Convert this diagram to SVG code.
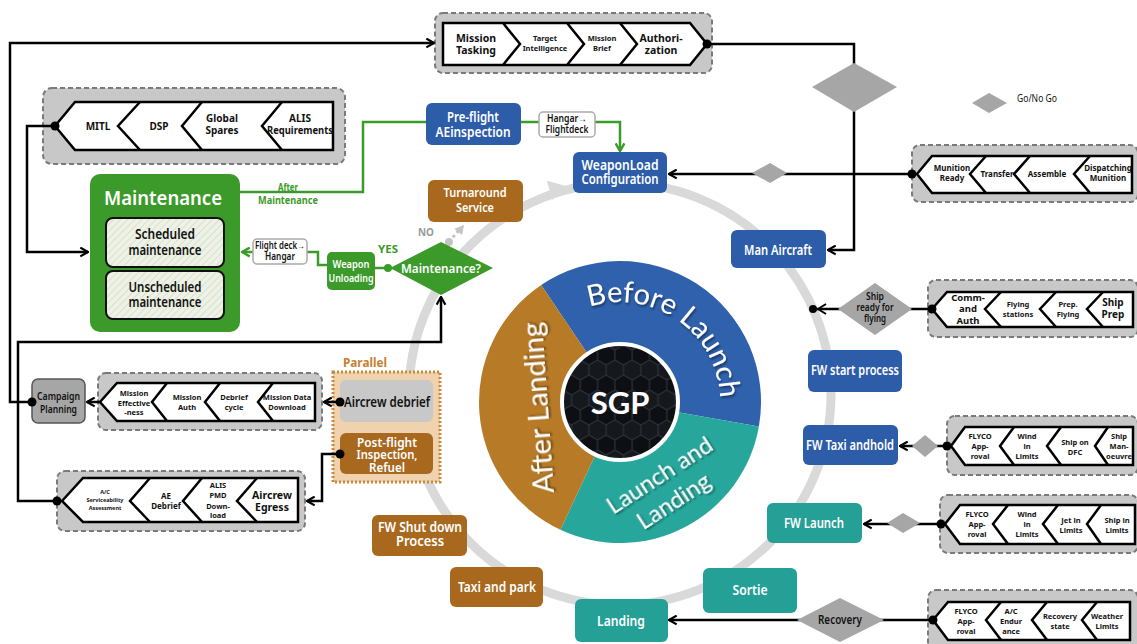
<svg xmlns="http://www.w3.org/2000/svg" width="1137" height="644" viewBox="0 0 1137 644">
<defs>
<style>
.co{fill:#c8c8c8;stroke:#7a7a7a;stroke-width:2;stroke-dasharray:5 3}
.ch{fill:#fff;stroke:#000;stroke-width:2.5;stroke-linejoin:miter}
.sp{fill:none;stroke:#000;stroke-width:2.5}
.ct{font-family:"Noto Sans",sans-serif;font-weight:bold;fill:#111;text-anchor:middle}
.lb{font-family:"Noto Sans",sans-serif;font-weight:600;fill:#fff;text-anchor:middle}
.dk{font-family:"Noto Sans",sans-serif;font-weight:600;fill:#111;text-anchor:middle}
.blue{fill:#2d5ca8}
.brown{fill:#a8691f}
.teal{fill:#24a096}
.green{fill:#3c9a2a}
.ln{fill:none;stroke:#000;stroke-width:2.5}
.gl{fill:none;stroke:#3c9a2a;stroke-width:2.5}
.dec{fill:#a6a6a6}
.pt{font-family:Lato,"Noto Sans",sans-serif;fill:#fff;filter:url(#sh)}
</style>
<marker id="ab" viewBox="0 0 10 10" refX="9" refY="5" markerWidth="11" markerHeight="11" markerUnits="userSpaceOnUse" orient="auto"><path d="M2,1 L9,5 L2,9" fill="none" stroke="#000" stroke-width="2"/></marker>
<marker id="ag" viewBox="0 0 10 10" refX="9" refY="5" markerWidth="11" markerHeight="11" markerUnits="userSpaceOnUse" orient="auto"><path d="M2,1 L9,5 L2,9" fill="none" stroke="#3c9a2a" stroke-width="2.2"/></marker>
<pattern id="hex" width="17.32" height="30" patternUnits="userSpaceOnUse"><rect width="17.32" height="30" fill="#0d0f13"/><path d="M8.66,0 L17.32,5 L17.32,15 L8.66,20 L0,15 L0,5 Z M8.66,20 L8.66,30" fill="#15181d" stroke="#2a2f38" stroke-width="1.3"/></pattern>
<pattern id="hatch" width="5" height="5" patternUnits="userSpaceOnUse" patternTransform="rotate(45)"><rect width="5" height="5" fill="#eef2e6"/><line x1="0" y1="0" x2="0" y2="5" stroke="#d2dac4" stroke-width="1.5"/></pattern>
<filter id="sh" x="-20%" y="-20%" width="140%" height="140%"><feDropShadow dx="1" dy="2" stdDeviation="1.2" flood-color="#000" flood-opacity="0.45"/></filter>
<path id="arcBL" d="M595.8,305 A100,100 0 0 1 719.5,391.5"/>
</defs>
<rect width="1137" height="644" fill="#fff"/>

<g id="ring">
<circle cx="620" cy="394" r="211" fill="none" stroke="#d9d9d9" stroke-width="9"/>
<path transform="translate(566,186) rotate(-15)" d="M0,0 L-17,-10 L-17,10 Z" fill="#d9d9d9"/>
</g>

<g id="sgp-wheel">
<path d="M620,402 L541.2,285.1 A141,141 0 0 1 758.9,426.5 Z" fill="#3061ad"/>
<path d="M620,402 L758.9,426.5 A141,141 0 0 1 560.4,529.8 Z" fill="#27a79c"/>
<path d="M620,402 L560.4,529.8 A141,141 0 0 1 541.2,285.1 Z" fill="#b77a27"/>
<circle cx="620" cy="402" r="58" fill="url(#hex)" stroke="#fff" stroke-width="4"/>
<text x="620" y="414" font-family="Lato,'Noto Sans',sans-serif" font-weight="bold" font-size="31" fill="#fff" text-anchor="middle">SGP</text>
<text class="pt" font-size="29"><textPath href="#arcBL" startOffset="50%" text-anchor="middle">Before Launch</textPath></text>
<text class="pt" font-size="29" text-anchor="middle" transform="translate(548,407) rotate(-94)">After Landing</text>
<text class="pt" font-size="24" text-anchor="middle" transform="translate(664,482) rotate(-33)">Launch and</text>
<text class="pt" font-size="24" text-anchor="middle" transform="translate(678,508) rotate(-33)">Landing</text>
</g>

<g id="chain-mission-tasking">
<rect class="co" x="435" y="13" width="277" height="60" rx="8"/>
<polygon class="ch" points="443,23 690,23 707,44 690,65 443,65"/>
<polyline class="sp" points="503,23 520,44 503,65"/>
<polyline class="sp" points="567,23 584,44 567,65"/>
<polyline class="sp" points="620,23 637,44 620,65"/>
<text class="ct" font-size="10.5"><tspan x="476" y="41.5">Mission</tspan><tspan x="476" y="53.5">Tasking</tspan></text>
<text class="ct" font-size="7.5"><tspan x="545" y="41">Target</tspan><tspan x="545" y="50.5">Intelligence</tspan></text>
<text class="ct" font-size="7.5"><tspan x="602" y="41">Mission</tspan><tspan x="602" y="50.5">Brief</tspan></text>
<text class="ct" font-size="10.5"><tspan x="661" y="41.5">Authori-</tspan><tspan x="661" y="53.5">zation</tspan></text>
</g>

<g id="chain-mitl">
<rect class="co" x="43" y="88" width="302" height="76" rx="9"/>
<polygon class="ch" points="55,126 75,102 333,102 333,150 75,150"/>
<polyline class="sp" points="140,102 118,126 140,150"/>
<polyline class="sp" points="202,102 182,126 202,150"/>
<polyline class="sp" points="282,102 262,126 282,150"/>
<text class="ct" font-size="10" x="98" y="130">MITL</text>
<text class="ct" font-size="10" x="159" y="130">DSP</text>
<text class="ct" font-size="10"><tspan x="222" y="122">Global</tspan><tspan x="222" y="134">Spares</tspan></text>
<text class="ct" font-size="10"><tspan x="300" y="122">ALIS</tspan><tspan x="300" y="134" textLength="66" lengthAdjust="spacingAndGlyphs">Requirements</tspan></text>
</g>

<g id="chain-munition">
<rect class="co" x="912" y="145" width="226" height="57" rx="8"/>
<polygon class="ch" points="917,174 932,156 1132,156 1132,193 932,193"/>
<polyline class="sp" points="986,156 970,174 986,193"/>
<polyline class="sp" points="1030,156 1014,174 1030,193"/>
<polyline class="sp" points="1090,156 1074,174 1090,193"/>
<text class="ct" font-size="8"><tspan x="952" y="171">Munition</tspan><tspan x="952" y="181">Ready</tspan></text>
<text class="ct" font-size="8" x="997" y="177">Transfer</text>
<text class="ct" font-size="8" x="1047" y="177">Assemble</text>
<text class="ct" font-size="8"><tspan x="1108" y="171">Dispatching</tspan><tspan x="1108" y="181">Munition</tspan></text>
</g>

<g id="chain-ship-prep">
<rect class="co" x="928" y="280" width="210" height="57" rx="8"/>
<polygon class="ch" points="932,309 947,292 1133,292 1133,327 947,327"/>
<polyline class="sp" points="1001,292 985,309 1001,327"/>
<polyline class="sp" points="1056,292 1040,309 1056,327"/>
<polyline class="sp" points="1103,292 1087,309 1103,327"/>
<text class="ct" font-size="9.5"><tspan x="968" y="300.5">Comm-</tspan><tspan x="968" y="312">and</tspan><tspan x="968" y="323.5">Auth</tspan></text>
<text class="ct" font-size="7.5"><tspan x="1018" y="307">Flying</tspan><tspan x="1018" y="317">stations</tspan></text>
<text class="ct" font-size="7.5"><tspan x="1068" y="307">Prep.</tspan><tspan x="1068" y="317">Flying</tspan></text>
<text class="ct" font-size="10"><tspan x="1113" y="306">Ship</tspan><tspan x="1113" y="318">Prep</tspan></text>
</g>

<g id="chain-fw-taxi">
<rect class="co" x="947" y="416" width="191" height="59" rx="8"/>
<polygon class="ch" points="951,446 965,427 1133,427 1133,465 965,465"/>
<polyline class="sp" points="1014,427 1000,446 1014,465"/>
<polyline class="sp" points="1061,427 1047,446 1061,465"/>
<polyline class="sp" points="1108,427 1095,446 1108,465"/>
<text class="ct" font-size="7.5"><tspan x="980" y="439">FLYCO</tspan><tspan x="980" y="449">App-</tspan><tspan x="980" y="459">roval</tspan></text>
<text class="ct" font-size="7.5"><tspan x="1027" y="439">Wind</tspan><tspan x="1027" y="449">in</tspan><tspan x="1027" y="459">Limits</tspan></text>
<text class="ct" font-size="7.5"><tspan x="1075" y="445">Ship on</tspan><tspan x="1075" y="455">DFC</tspan></text>
<text class="ct" font-size="7.5"><tspan x="1119" y="439">Ship</tspan><tspan x="1119" y="449">Man-</tspan><tspan x="1119" y="459">oeuvre</tspan></text>
</g>

<g id="chain-fw-launch">
<rect class="co" x="940" y="495" width="198" height="58" rx="8"/>
<polygon class="ch" points="945,524 960,505 1135,505 1135,544 960,544"/>
<polyline class="sp" points="1008,505 993,524 1008,544"/>
<polyline class="sp" points="1058,505 1043,524 1058,544"/>
<polyline class="sp" points="1101,505 1087,524 1101,544"/>
<text class="ct" font-size="7.5"><tspan x="977" y="517">FLYCO</tspan><tspan x="977" y="527">App-</tspan><tspan x="977" y="537">roval</tspan></text>
<text class="ct" font-size="7.5"><tspan x="1027" y="517">Wind</tspan><tspan x="1027" y="527">in</tspan><tspan x="1027" y="537">Limits</tspan></text>
<text class="ct" font-size="7.5"><tspan x="1071" y="523">Jet in</tspan><tspan x="1071" y="533">Limits</tspan></text>
<text class="ct" font-size="7.5"><tspan x="1117" y="523">Ship in</tspan><tspan x="1117" y="533">Limits</tspan></text>
</g>

<g id="chain-recovery">
<rect class="co" x="928" y="590" width="210" height="62" rx="8"/>
<polygon class="ch" points="933,620 948,602 1130,602 1130,640 948,640"/>
<polyline class="sp" points="1001,602 986,620 1001,640"/>
<polyline class="sp" points="1047,602 1032,620 1047,640"/>
<polyline class="sp" points="1097,602 1082,620 1097,640"/>
<text class="ct" font-size="7.5"><tspan x="966" y="614">FLYCO</tspan><tspan x="966" y="624">App-</tspan><tspan x="966" y="634">roval</tspan></text>
<text class="ct" font-size="7.5"><tspan x="1011" y="614">A/C</tspan><tspan x="1011" y="624">Endur</tspan><tspan x="1011" y="634">ance</tspan></text>
<text class="ct" font-size="7.5"><tspan x="1060" y="619">Recovery</tspan><tspan x="1060" y="629">state</tspan></text>
<text class="ct" font-size="7.5"><tspan x="1107" y="619">Weather</tspan><tspan x="1107" y="629">Limits</tspan></text>
</g>

<g id="chain-mission-data">
<rect class="co" x="98" y="373" width="224" height="57" rx="8"/>
<polygon class="ch" points="100,402 117,383 315,383 315,421 117,421"/>
<polyline class="sp" points="167,383 152,402 167,421"/>
<polyline class="sp" points="220,383 205,402 220,421"/>
<polyline class="sp" points="273,383 258,402 273,421"/>
<text class="ct" font-size="7.5"><tspan x="134" y="396">Mission</tspan><tspan x="134" y="405.5">Effective</tspan><tspan x="134" y="415">-ness</tspan></text>
<text class="ct" font-size="7.5"><tspan x="187" y="400">Mission</tspan><tspan x="187" y="410">Auth</tspan></text>
<text class="ct" font-size="7.5"><tspan x="234" y="400">Debrief</tspan><tspan x="234" y="410">cycle</tspan></text>
<text class="ct" font-size="7.5"><tspan x="287" y="400">Mission Data</tspan><tspan x="287" y="410">Download</tspan></text>
</g>

<g id="chain-egress">
<rect class="co" x="57" y="471" width="248" height="60" rx="8"/>
<polygon class="ch" points="62,501 83,478 298,478 298,522 83,522"/>
<polyline class="sp" points="150,478 130,501 150,522"/>
<polyline class="sp" points="202,478 183,501 202,522"/>
<polyline class="sp" points="257,478 237,501 257,522"/>
<text class="ct" font-size="5.5"><tspan x="105" y="494">A/C</tspan><tspan x="105" y="502">Serviceability</tspan><tspan x="105" y="510">Assessment</tspan></text>
<text class="ct" font-size="8"><tspan x="166" y="499">AE</tspan><tspan x="166" y="509">Debrief</tspan></text>
<text class="ct" font-size="7.5"><tspan x="218" y="488">ALIS</tspan><tspan x="218" y="498">PMD</tspan><tspan x="218" y="508.5">Down-</tspan><tspan x="218" y="518">load</tspan></text>
<text class="ct" font-size="10.5"><tspan x="272" y="499">Aircrew</tspan><tspan x="272" y="511">Egress</tspan></text>
</g>

<g id="maintenance">
<rect x="90" y="174" width="150" height="158" rx="10" class="green"/>
<text class="lb" x="163" y="205" font-size="20" textLength="118" lengthAdjust="spacingAndGlyphs">Maintenance</text>
<rect x="106" y="218" width="118" height="49" rx="7" fill="url(#hatch)" stroke="#111" stroke-width="2"/>
<text class="dk" font-size="14"><tspan x="165" y="239" textLength="60" lengthAdjust="spacingAndGlyphs">Scheduled</tspan><tspan x="165" y="255" textLength="73" lengthAdjust="spacingAndGlyphs">maintenance</tspan></text>
<rect x="106" y="271" width="118" height="48" rx="7" fill="url(#hatch)" stroke="#111" stroke-width="2"/>
<text class="dk" font-size="14"><tspan x="165" y="292" textLength="73" lengthAdjust="spacingAndGlyphs">Unscheduled</tspan><tspan x="165" y="307" textLength="73" lengthAdjust="spacingAndGlyphs">maintenance</tspan></text>
</g>

<g id="preflight"><rect x="426" y="103" width="95" height="42" rx="6" class="blue"/>
<text class="lb" font-size="14"><tspan x="473" y="122" textLength="52" lengthAdjust="spacingAndGlyphs">Pre-flight</tspan><tspan x="473" y="137" textLength="75" lengthAdjust="spacingAndGlyphs">AEinspection</tspan></text></g>

<g id="weapon-load"><rect x="573" y="152" width="94" height="41" rx="6" class="blue"/>
<text class="lb" font-size="14"><tspan x="620" y="170" textLength="77" lengthAdjust="spacingAndGlyphs">WeaponLoad</tspan><tspan x="620" y="184" textLength="77" lengthAdjust="spacingAndGlyphs">Configuration</tspan></text></g>

<g id="turnaround"><rect x="428" y="180" width="95" height="42" rx="6" class="brown"/>
<text class="lb" font-size="13"><tspan x="475" y="197" textLength="63" lengthAdjust="spacingAndGlyphs">Turnaround</tspan><tspan x="475" y="212" textLength="38" lengthAdjust="spacingAndGlyphs">Service</tspan></text></g>

<g id="man-aircraft"><rect x="731" y="230" width="95" height="38" rx="6" class="blue"/>
<text class="lb" font-size="14" x="778" y="255" textLength="68" lengthAdjust="spacingAndGlyphs">Man Aircraft</text></g>

<g id="fw-start"><rect x="808" y="350" width="94" height="42" rx="6" class="blue"/>
<text class="lb" font-size="14" x="855" y="375" textLength="88" lengthAdjust="spacingAndGlyphs">FW start process</text></g>

<g id="fw-taxi"><rect x="803" y="425" width="95" height="40" rx="6" class="blue"/>
<text class="lb" font-size="14" x="850" y="450" textLength="88" lengthAdjust="spacingAndGlyphs">FW Taxi andhold</text></g>

<g id="fw-launch"><rect x="767" y="503" width="95" height="40" rx="6" class="teal"/>
<text class="lb" font-size="14" x="814" y="528" textLength="60" lengthAdjust="spacingAndGlyphs">FW Launch</text></g>

<g id="sortie"><rect x="703" y="568" width="94" height="45" rx="6" class="teal"/>
<text class="lb" font-size="14" x="750" y="595" textLength="35" lengthAdjust="spacingAndGlyphs">Sortie</text></g>

<g id="landing"><rect x="575" y="599" width="93" height="43" rx="6" class="teal"/>
<text class="lb" font-size="14" x="621" y="626" textLength="48" lengthAdjust="spacingAndGlyphs">Landing</text></g>

<g id="taxi-park"><rect x="450" y="567" width="93" height="40" rx="6" class="brown"/>
<text class="lb" font-size="14" x="497" y="592" textLength="78" lengthAdjust="spacingAndGlyphs">Taxi and park</text></g>

<g id="fw-shutdown"><rect x="372" y="515" width="95" height="41" rx="6" class="brown"/>
<text class="lb" font-size="13.5"><tspan x="420" y="532" textLength="84" lengthAdjust="spacingAndGlyphs">FW Shut down</tspan><tspan x="420" y="546" textLength="48" lengthAdjust="spacingAndGlyphs">Process</tspan></text></g>

<g id="parallel">
<rect x="333" y="372" width="107" height="110" fill="#f0d2ae" stroke="#c98a3d" stroke-width="3" stroke-dasharray="2 2"/>
<text x="365" y="367" font-family="'Noto Sans',sans-serif" font-weight="bold" font-size="12" fill="#c4812f" text-anchor="middle" textLength="44" lengthAdjust="spacingAndGlyphs">Parallel</text>
</g>
<g id="aircrew-debrief"><rect x="340" y="380" width="93" height="42" rx="6" fill="#c8c8c8"/>
<text class="dk" font-size="15" x="387" y="407" textLength="86" lengthAdjust="spacingAndGlyphs">Aircrew debrief</text></g>
<g id="post-flight"><rect x="340" y="433" width="93" height="41" rx="6" class="brown"/>
<text class="lb" font-size="12"><tspan x="387" y="446.5" textLength="60" lengthAdjust="spacingAndGlyphs">Post-flight</tspan><tspan x="387" y="459" textLength="61" lengthAdjust="spacingAndGlyphs">Inspection,</tspan><tspan x="387" y="471.5" textLength="36" lengthAdjust="spacingAndGlyphs">Refuel</tspan></text></g>

<g id="campaign-planning"><rect x="32" y="379" width="53" height="44" rx="6" fill="#a6a6a6" stroke="#555" stroke-width="1.5"/>
<text class="dk" font-size="11"><tspan x="58.5" y="400" textLength="43" lengthAdjust="spacingAndGlyphs">Campaign</tspan><tspan x="58.5" y="413" textLength="37" lengthAdjust="spacingAndGlyphs">Planning</tspan></text></g>

<g id="weapon-unloading"><rect x="327" y="252" width="48" height="38" rx="5" class="green"/>
<text class="lb" font-size="11"><tspan x="351" y="268" textLength="37" lengthAdjust="spacingAndGlyphs">Weapon</tspan><tspan x="351" y="282" textLength="45" lengthAdjust="spacingAndGlyphs">Unloading</tspan></text></g>

<g id="connectors">
<polyline class="ln" points="32,402 10,402 10,43 434,43" marker-end="url(#ab)"/>
<polyline class="ln" points="55,126 27,126 27,252 88,252" marker-end="url(#ab)"/>
<polyline class="ln" points="707,44 854,44 854,250 828,250" marker-end="url(#ab)"/>
<line class="ln" x1="912" y1="174" x2="669" y2="174" marker-end="url(#ab)"/>
<line class="ln" x1="932" y1="309" x2="813" y2="309"/>
<path d="M826,304 L818,309 L826,314" fill="none" stroke="#000" stroke-width="2"/>
<line class="ln" x1="947" y1="446" x2="900" y2="446" marker-end="url(#ab)"/>
<line class="ln" x1="941" y1="524" x2="864" y2="524" marker-end="url(#ab)"/>
<line class="ln" x1="933" y1="620" x2="669" y2="620" marker-end="url(#ab)"/>
<polyline class="ln" points="57,501 18,501 18,342 441,342 441,297" marker-end="url(#ab)"/>
<line class="ln" x1="340" y1="402" x2="324" y2="402" marker-end="url(#ab)"/>
<line class="ln" x1="100" y1="402" x2="87" y2="402" marker-end="url(#ab)"/>
<polyline class="ln" points="340,454 322,454 322,501 307,501" marker-end="url(#ab)"/>
<polyline class="gl" points="240,192 363,192 363,122 426,122"/>
<polyline class="gl" points="521,122 620,122 620,151" marker-end="url(#ag)"/>
<polyline class="gl" points="327,265 318,265 318,252 242,252" marker-end="url(#ag)"/>
<line class="gl" x1="390" y1="268" x2="375" y2="268"/>
<circle cx="388" cy="268" r="4" fill="#3c9a2a"/>
<line x1="449" y1="242" x2="459" y2="230" stroke="#c4c4c4" stroke-width="3" stroke-dasharray="3 3"/>
<circle cx="449" cy="242" r="4" fill="#c4c4c4"/>
<path transform="translate(464,225) rotate(-50)" d="M0,0 L-9,-5 L-9,5 Z" fill="#c4c4c4"/>
<circle cx="32" cy="402" r="4.5"/>
<circle cx="55" cy="126" r="4.5"/>
<circle cx="707" cy="44" r="4.5"/>
<circle cx="912" cy="174" r="4.5"/>
<circle cx="932" cy="309" r="4.5"/>
<circle cx="813" cy="309" r="4"/>
<circle cx="947" cy="446" r="4.5"/>
<circle cx="941" cy="524" r="4.5"/>
<circle cx="933" cy="620" r="4.5"/>
<circle cx="57" cy="501" r="4.5"/>
<circle cx="340" cy="402" r="4.5"/>
<circle cx="340" cy="454" r="4.5"/>
</g>

<g id="go-nogo-main"><polygon class="dec" points="812,87 854,63 897,87 854,112"/></g>
<g id="go-nogo-legend"><polygon class="dec" points="972,103 989,93 1007,103 989,113"/>
<text x="1017" y="102" font-family="'Noto Sans',sans-serif" font-size="10" fill="#111" textLength="40" lengthAdjust="spacingAndGlyphs">Go/No Go</text></g>
<g id="munition-decision"><polygon class="dec" points="752,173 770,163 787,173 770,183"/></g>
<g id="ship-ready"><polygon class="dec" points="838,309 875,283 912,309 875,335"/>
<text class="dk" font-size="10.5" font-weight="500"><tspan x="875" y="300" textLength="18" lengthAdjust="spacingAndGlyphs">Ship</tspan><tspan x="875" y="311" textLength="37" lengthAdjust="spacingAndGlyphs">ready for</tspan><tspan x="875" y="322" textLength="22" lengthAdjust="spacingAndGlyphs">flying</tspan></text></g>
<g id="taxi-decision"><polygon class="dec" points="912,446 925,435 938,446 925,457"/></g>
<g id="launch-decision"><polygon class="dec" points="887,523 903,513 920,523 903,533"/></g>
<g id="recovery"><polygon class="dec" points="797,620 840,598 884,620 840,642"/>
<text class="dk" font-size="12" font-weight="500" x="840" y="624" textLength="44" lengthAdjust="spacingAndGlyphs">Recovery</text></g>
<g id="maintenance-decision"><polygon points="390,268 441,242 493,268 441,295" fill="#3c9a2a"/>
<text class="lb" font-size="13" x="441" y="273" textLength="80" lengthAdjust="spacingAndGlyphs">Maintenance?</text></g>

<g id="labels">
<rect x="539" y="112" width="56" height="25" rx="4" fill="#fff" stroke="#aaa" stroke-width="1.5"/>
<text class="dk" font-size="10" font-weight="500"><tspan x="567" y="122" textLength="40" lengthAdjust="spacingAndGlyphs">Hangar→</tspan><tspan x="567" y="133" textLength="43" lengthAdjust="spacingAndGlyphs">Flightdeck</tspan></text>
<rect x="253" y="239" width="54" height="25" rx="4" fill="#fff" stroke="#aaa" stroke-width="1.5"/>
<text class="dk" font-size="10" font-weight="500"><tspan x="280" y="249" textLength="50" lengthAdjust="spacingAndGlyphs">Flight deck→</tspan><tspan x="280" y="260" textLength="30" lengthAdjust="spacingAndGlyphs">Hangar</tspan></text>
<text font-family="'Noto Sans',sans-serif" font-weight="bold" font-size="11" fill="#3c9a2a" text-anchor="middle"><tspan x="288" y="191" textLength="20" lengthAdjust="spacingAndGlyphs">After</tspan><tspan x="288" y="204" textLength="60" lengthAdjust="spacingAndGlyphs">Maintenance</tspan></text>
<text x="388" y="253" font-family="'Noto Sans',sans-serif" font-weight="bold" font-size="11" fill="#3c9a2a" text-anchor="middle" textLength="20" lengthAdjust="spacingAndGlyphs">YES</text>
<text x="426" y="236" font-family="'Noto Sans',sans-serif" font-weight="bold" font-size="11" fill="#9a9a9a" text-anchor="middle" textLength="16" lengthAdjust="spacingAndGlyphs">NO</text>
</g>
</svg>
